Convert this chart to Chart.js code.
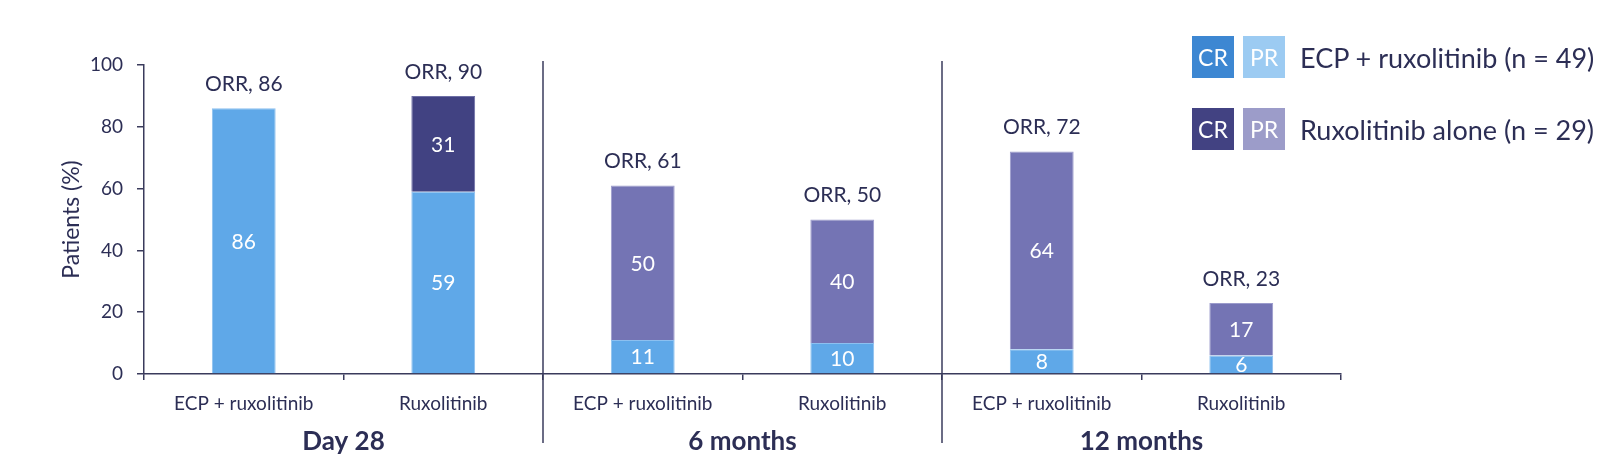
<!DOCTYPE html>
<html>
<head>
<meta charset="utf-8">
<script src="https://cdn.jsdelivr.net/npm/chart.js@4.4.1/dist/chart.umd.min.js"></script>
<style>
  body { margin: 0; background: #fff; font-family: Lato, sans-serif; }
  #wrap { position: relative; width: 1624px; height: 474px; }
  #legend { position: absolute; left: 1192px; top: 36px; color: #2c2e55; }
  .row { display: flex; align-items: center; height: 42px; margin-bottom: 30px; }
  .box { width: 42px; height: 42px; color: #fff; font-size: 23px; display: flex;
         align-items: center; justify-content: center; margin-right: 9px; }
  .lbl { font-size: 27px; margin-left: 6px; white-space: nowrap; }
</style>
</head>
<body>
<div id="wrap">
  <canvas id="barChart" width="1624" height="474"></canvas>
  <div id="legend">
    <div class="row"><div class="box" style="background:#3d87d2">CR</div><div class="box" style="background:#9ccbf2">PR</div><div class="lbl">ECP + ruxolitinib (n = 49)</div></div>
    <div class="row"><div class="box" style="background:#424282">CR</div><div class="box" style="background:#9c9cc9">PR</div><div class="lbl">Ruxolitinib alone (n = 29)</div></div>
  </div>
</div>
<script>
var categories = ["ECP + ruxolitinib", "Ruxolitinib", "ECP + ruxolitinib", "Ruxolitinib", "ECP + ruxolitinib", "Ruxolitinib"];
var groups = ["Day 28", "6 months", "12 months"];
var bottomValues = [86, 59, 11, 10, 8, 6];
var navyValues = [null, 31, null, null, null, null];
var purpleValues = [null, null, 50, 40, 64, 17];
var orrValues = [86, 90, 61, 50, 72, 23];
var yTicks = [0, 20, 40, 60, 80, 100];

var textColor = "#2c2e55";
var axisColor = "#3a3b5c";

var labelPlugin = {
  id: "labels",
  afterDatasetsDraw: function (chart) {
    var ctx = chart.ctx;
    var x = chart.scales.x, y = chart.scales.y;
    ctx.save();
    ctx.textAlign = "center";
    ctx.textBaseline = "middle";
    // values inside segments
    ctx.font = "21px Lato";
    ctx.fillStyle = "#fff";
    chart.data.datasets.forEach(function (ds, di) {
      chart.getDatasetMeta(di).data.forEach(function (bar, i) {
        if (ds.data[i] == null) return;
        ctx.fillText(String(ds.data[i]), bar.x, (bar.y + bar.base) / 2 + 1);
      });
    });
    // ORR labels above stacks
    ctx.fillStyle = textColor;
    ctx.font = "21px Lato";
    orrValues.forEach(function (v, i) {
      ctx.fillText("ORR, " + v, x.getPixelForValue(i), y.getPixelForValue(v) - 24);
    });
    ctx.restore();
  },
  afterDraw: function (chart) {
    var ctx = chart.ctx;
    var x = chart.scales.x;
    var area = chart.chartArea;
    var step = x.getPixelForValue(1) - x.getPixelForValue(0);
    ctx.save();
    // group separators
    ctx.strokeStyle = axisColor;
    ctx.lineWidth = 1.5;
    [2, 4].forEach(function (i) {
      var px = x.getPixelForValue(i) - step / 2;
      ctx.beginPath();
      ctx.moveTo(px, area.top - 4);
      ctx.lineTo(px, 443);
      ctx.stroke();
    });
    // group labels
    ctx.fillStyle = textColor;
    ctx.font = "bold 26px Lato";
    ctx.textAlign = "center";
    ctx.textBaseline = "middle";
    groups.forEach(function (g, gi) {
      var cx = (x.getPixelForValue(gi * 2) + x.getPixelForValue(gi * 2 + 1)) / 2;
      ctx.fillText(g, cx, 442);
    });
    ctx.restore();
  }
};

new Chart(document.getElementById("barChart").getContext("2d"), {
  type: "bar",
  data: {
    labels: categories,
    datasets: [
      { data: bottomValues, backgroundColor: "#5fa8e8", borderColor: "#8cc0f0", borderWidth: 1, borderSkipped: "bottom" },
      { data: navyValues, backgroundColor: "#414282", borderColor: "#6e6fa6", borderWidth: 1, borderSkipped: "bottom" },
      { data: purpleValues, backgroundColor: "#7474b4", borderColor: "#9b9bcc", borderWidth: 1, borderSkipped: "bottom" }
    ]
  },
  options: {
    responsive: false,
    animation: false,
    devicePixelRatio: 1,
    layout: { padding: { left: 54, right: 283, top: 65, bottom: 0 } },
    datasets: { bar: { categoryPercentage: 1, barPercentage: 0.32 } },
    plugins: { legend: { display: false }, tooltip: { enabled: false } },
    scales: {
      x: {
        stacked: true,
        offset: true,
        afterFit: function (s) { s.height = 100; },
        grid: { offset: true, drawOnChartArea: false, tickLength: 6, color: axisColor, lineWidth: 1.5 },
        border: { color: axisColor, width: 1.5 },
        ticks: { color: textColor, font: { family: "Lato", size: 19 }, padding: 12, maxRotation: 0 }
      },
      y: {
        stacked: true,
        min: 0,
        max: 100,
        afterFit: function (s) { s.width = 90; },
        afterBuildTicks: function (s) { s.ticks = yTicks.map(function (v) { return { value: v }; }); },
        grid: { drawOnChartArea: false, tickLength: 7, color: axisColor, lineWidth: 1.5 },
        border: { color: axisColor, width: 1.5 },
        ticks: { color: textColor, font: { family: "Lato", size: 19 }, padding: 14 },
        title: { display: true, text: "Patients (%)", color: textColor, font: { family: "Lato", size: 23 } }
      }
    }
  },
  plugins: [labelPlugin]
});
</script>
</body>
</html>
